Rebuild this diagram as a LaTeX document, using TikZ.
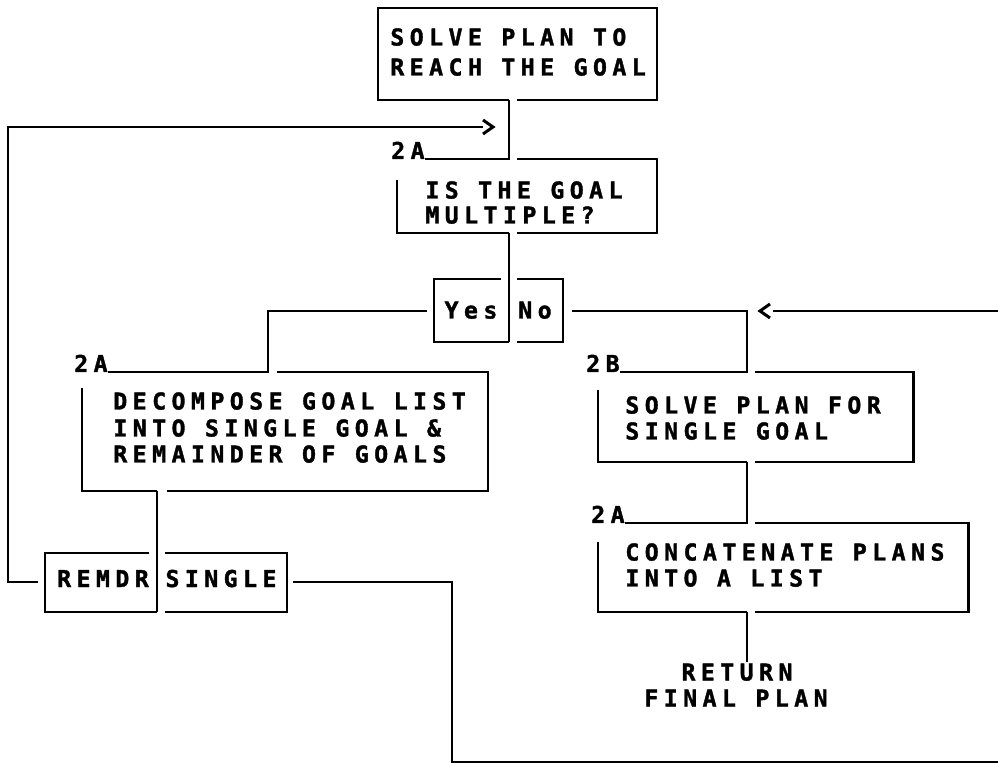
\documentclass[tikz,border=0pt]{standalone}
\usepackage{fontspec}
\newfontfamily\plotfont[LetterSpace=23.5,FakeBold=1.5]{DejaVu Sans Mono Bold}
\tikzset{
  ln/.style={line width=1.7pt},
  txt/.style={font=\plotfont\fontsize{13.2pt}{15pt}\selectfont, inner sep=0pt, anchor=base west},
  ctxt/.style={txt, anchor=base},
  lbl/.style={txt, anchor=base east},
}
\begin{document}
\begin{tikzpicture}[x=0.02cm,y=-0.02cm]
\fill[white] (0,0) rectangle (998,763);
\useasboundingbox (0,0) rectangle (998,763);

% ---------- box 0: SOLVE PLAN TO REACH THE GOAL
\node[txt] (t0a) at (390,45.5) {SOLVE PLAN TO};
\node[txt] (t0b) at (390,75.5) {REACH THE GOAL};
\coordinate (b0o) at (509,100);
\draw[ln] (517,100) -- (657,100) -- (657,8) -- (378,8) -- (378,100) -- (b0o);

% ---------- box 1: IS THE GOAL MULTIPLE?
\coordinate (c1) at (425,159);
\coordinate (b1i) at (509,159);
\node[lbl] (l1) at (c1) {2A};
\node[txt] (t1a) at (425,198.5) {IS THE GOAL};
\node[txt] (t1b) at (425,223.5) {MULTIPLE?};
\draw[ln] (b0o) -- (b1i) -- (c1);
\draw[ln] (517,159) -- (657,159) -- (657,233) -- (517,233);
\coordinate (b1o) at (509,233);
\draw[ln] (397,180) -- (397,233) -- (b1o);

% ---------- Yes / No
\coordinate (yn) at (509,342);
\draw[ln] (b1o) -- (yn);
\draw[ln] (501,279) -- (434,279) -- (434,342) -- (yn);
\draw[ln] (517,279) -- (563,279) -- (563,342) -- (517,342);
\node[ctxt] (yes) at (471,318.5) {Yes};
\node[ctxt] (no) at (535,318.5) {No};

% ---------- box 2: DECOMPOSE
\coordinate (yesL) at (427,311);
\coordinate (b2i) at (268,372);
\coordinate (c2) at (108,372);
\node[lbl] (l2) at (c2) {2A};
\draw[ln] (yesL) -| (b2i) -- (c2);
\draw[ln] (277,372) -- (488,372) -- (488,491) -- (167,491);
\coordinate (b2o) at (157,491);
\draw[ln] (82,388) -- (82,491) -- (b2o);
\node[txt] (t2a) at (113,409.5) {DECOMPOSE GOAL LIST};
\node[txt] (t2b) at (113,436.5) {INTO SINGLE GOAL \&};
\node[txt] (t2c) at (113,462.5) {REMAINDER OF GOALS};

% ---------- REMDR / SINGLE
\coordinate (rs) at (157,612);
\draw[ln] (b2o) -- (rs);
\draw[ln] (149,553) -- (45,553) -- (45,612) -- (rs);
\draw[ln] (165,553) -- (287,553) -- (287,612) -- (165,612);
\node[ctxt] (remdr) at (103,587) {REMDR};
\node[ctxt] (single) at (221,587) {SINGLE};

% loop back from REMDR
\coordinate (remL) at (38,582);
\coordinate (loopT) at (8,127);
\coordinate (arrR) at (483,127);
\draw[ln] (remL) -| (loopT) -- (arrR);
\draw[ln] (483,120) -- (493,127) -- (483,134);

% SINGLE to the right edge
\coordinate (sinR) at (293,582);
\coordinate (botL) at (452,762);
\coordinate (botR) at (998,762);
\draw[ln] (sinR) -| (botL) -- (botR);

% ---------- box 3: SOLVE PLAN FOR SINGLE GOAL
\coordinate (noR) at (572,311);
\coordinate (b3i) at (747,372);
\coordinate (c3) at (620,372);
\node[lbl] (l3) at (c3) {2B};
\draw[ln] (noR) -| (b3i) -- (c3);
\coordinate (inR) at (998,311);
\coordinate (inL) at (773,311);
\draw[ln] (inR) -- (inL);
\draw[ln] (770,304) -- (760,311) -- (770,318);
\draw[ln] (755,372) -- (913,372) -- (913,462) -- (755,462);
\coordinate (b3o) at (747,462);
\draw[ln] (598,390) -- (598,462) -- (b3o);
\node[txt] (t3a) at (625,413.5) {SOLVE PLAN FOR};
\node[txt] (t3b) at (625,439.5) {SINGLE GOAL};

% ---------- box 4: CONCATENATE
\coordinate (b4i) at (747,523);
\coordinate (c4) at (625,523);
\node[lbl] (l4) at (c4) {2A};
\draw[ln] (b3o) -- (b4i) -- (c4);
\draw[ln] (755,523) -- (968,523) -- (968,612) -- (755,612);
\coordinate (b4o) at (747,612);
\draw[ln] (598,542) -- (598,612) -- (b4o);
\node[txt] (t4a) at (625,560.5) {CONCATENATE PLANS};
\node[txt] (t4b) at (625,586.5) {INTO A LIST};
\coordinate (retT) at (747,662);
\draw[ln] (b4o) -- (retT);
\node[ctxt] (ret) at (737,680.5) {RETURN};
\node[ctxt] (fin) at (736,706.5) {FINAL PLAN};
\end{tikzpicture}
\end{document}
